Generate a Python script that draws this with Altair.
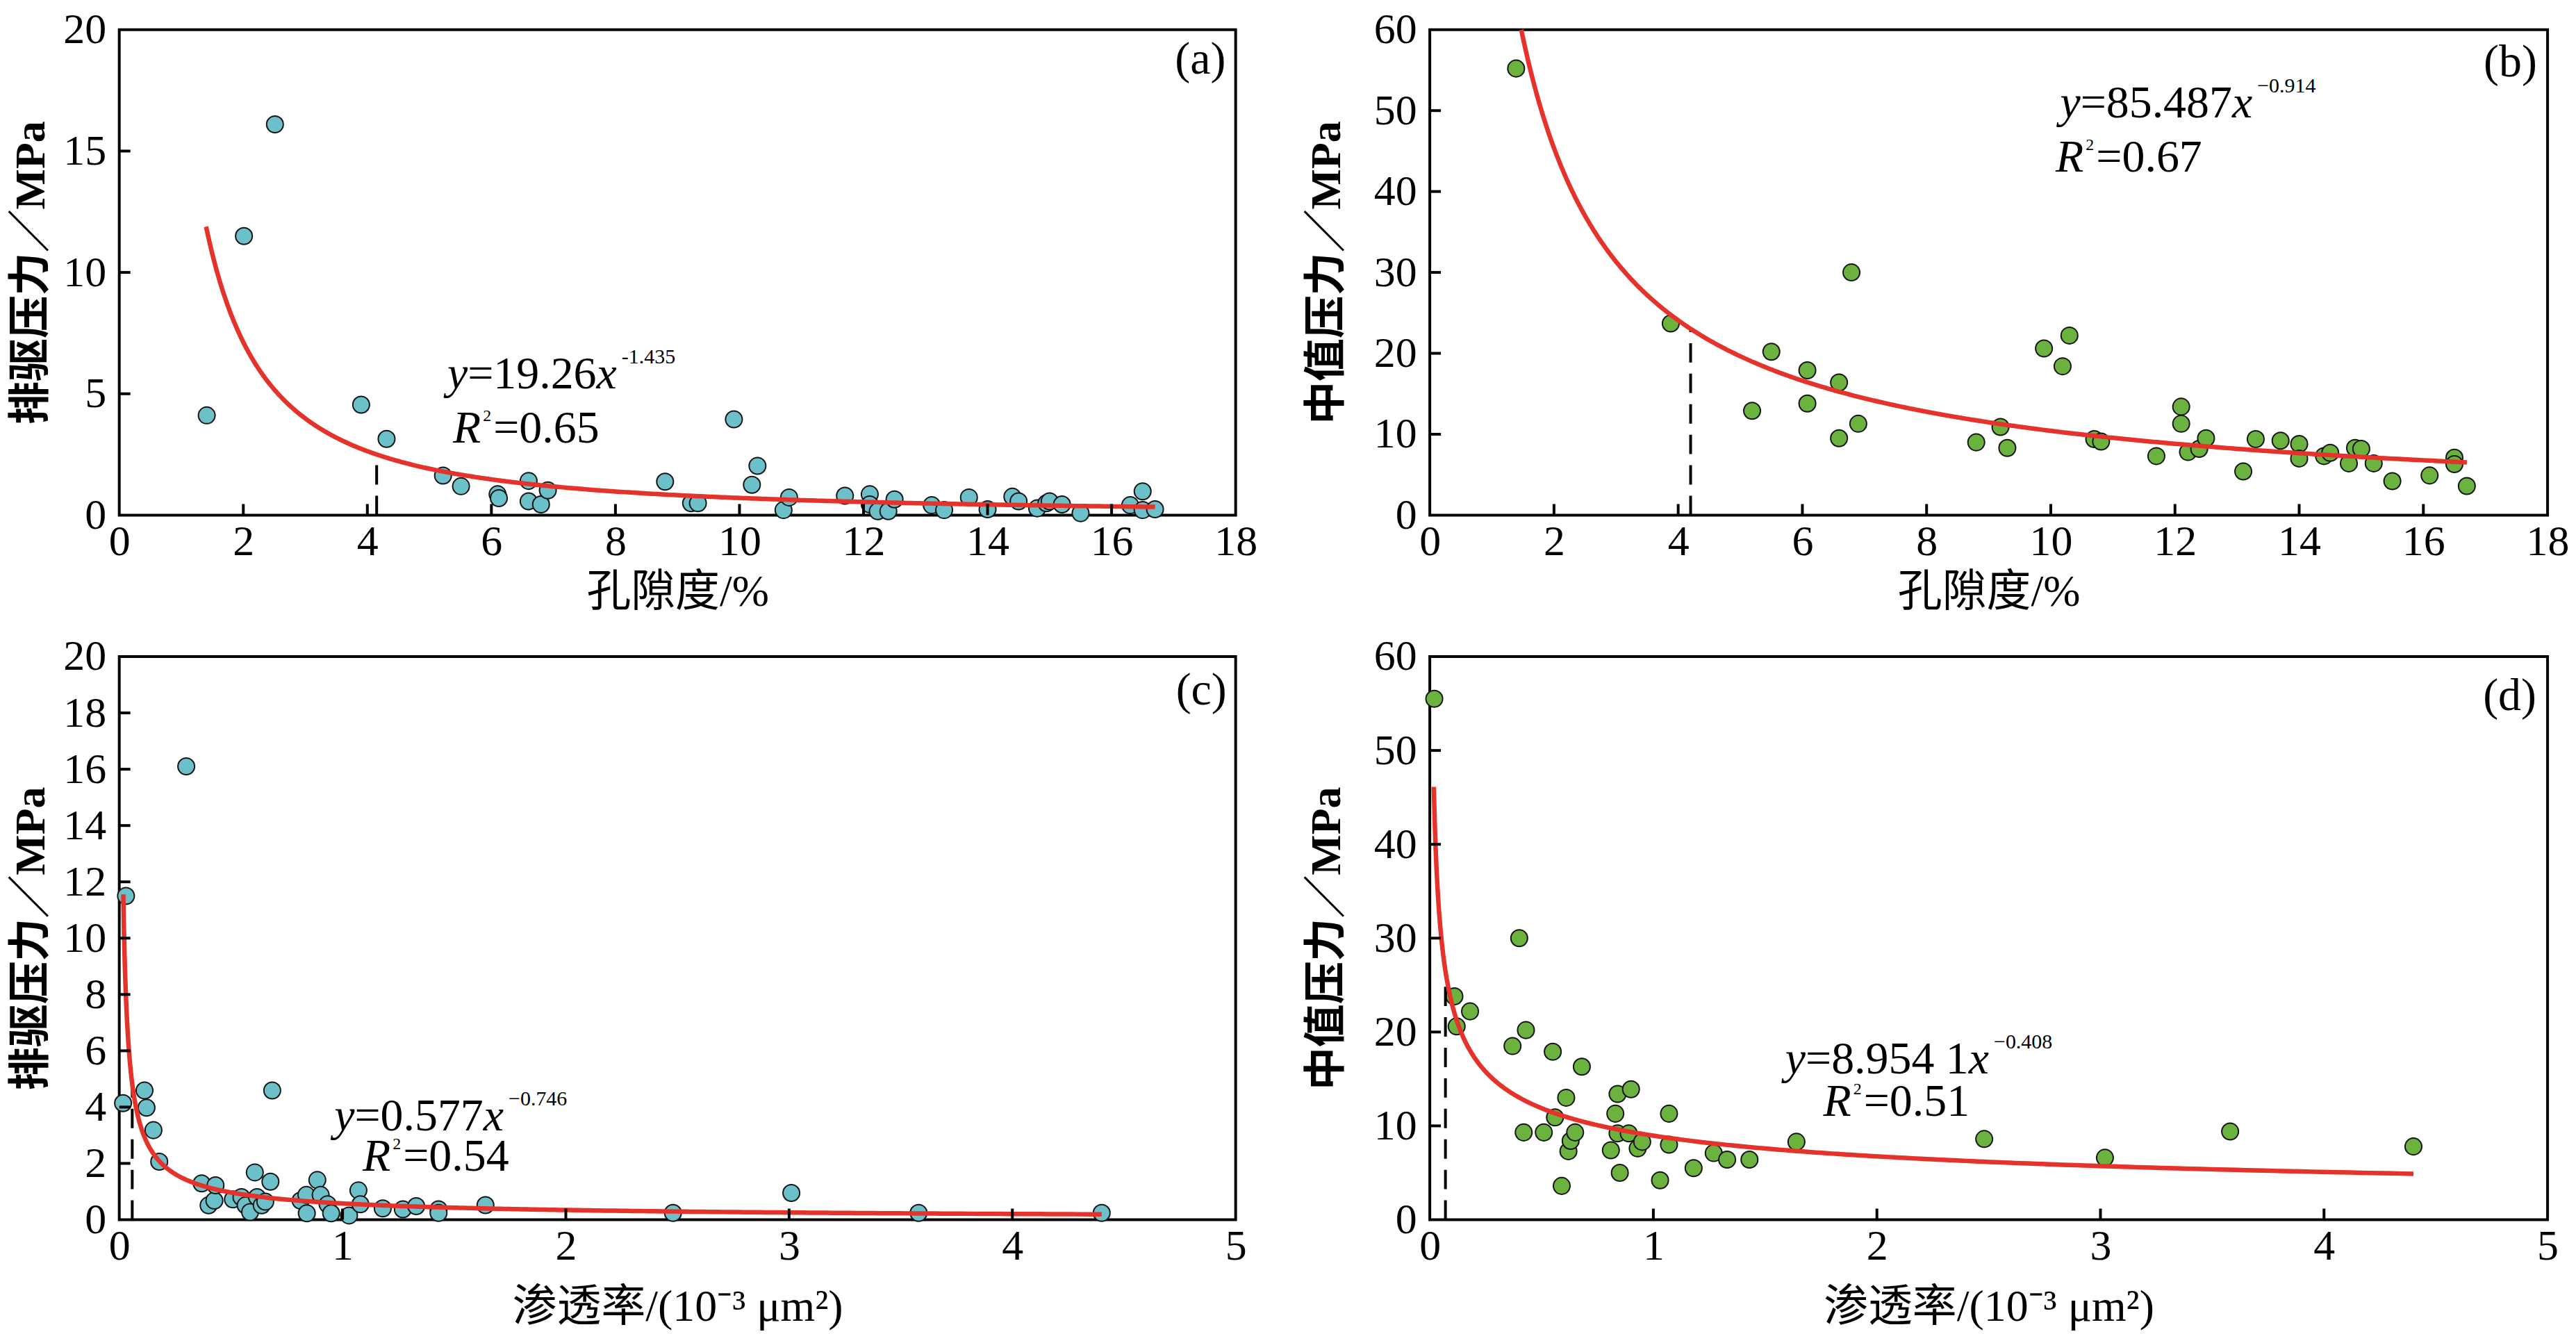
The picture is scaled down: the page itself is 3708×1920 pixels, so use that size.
import altair as alt
import numpy as np
import pandas as pd

# ---------------- data ----------------
# (a) porosity (%) vs displacement pressure (MPa)
a_x = [1.41, 2.01, 2.51, 3.90, 4.31, 5.22, 5.51, 6.10, 6.12, 6.60, 6.60, 6.80, 6.91,
       8.80, 9.22, 9.33, 9.91, 10.20, 10.29, 10.71, 10.80, 11.70, 12.10, 12.10, 12.23,
       12.40, 12.50, 13.10, 13.30, 13.70, 14.00, 14.40, 14.50, 14.80, 14.95, 15.00,
       15.20, 15.50, 16.30, 16.50, 16.50, 16.70]
a_y = [4.11, 11.5, 16.1, 4.55, 3.14, 1.63, 1.19, 0.86, 0.70, 1.41, 0.57, 0.44, 1.02,
       1.38, 0.49, 0.49, 3.95, 1.25, 2.03, 0.21, 0.73, 0.80, 0.86, 0.44, 0.16,
       0.16, 0.65, 0.41, 0.21, 0.73, 0.24, 0.76, 0.57, 0.28, 0.49, 0.57,
       0.44, 0.08, 0.41, 0.98, 0.21, 0.24]

# (b) porosity (%) vs median pressure (MPa)
b_x = [1.39, 3.88, 5.19, 5.50, 6.08, 6.08, 6.59, 6.59, 6.79, 6.90, 8.80, 9.19, 9.30,
       9.89, 10.19, 10.30, 10.70, 10.81, 11.70, 12.10, 12.10, 12.21, 12.39, 12.50,
       13.10, 13.30, 13.70, 14.00, 14.00, 14.40, 14.50, 14.80, 14.90, 15.00, 15.20,
       15.50, 16.10, 16.50, 16.50, 16.70]
b_y = [55.2, 23.7, 12.9, 20.2, 17.9, 13.8, 16.4, 9.5, 30.0, 11.3, 9.0, 10.9, 8.3,
       20.6, 18.4, 22.2, 9.4, 9.1, 7.3, 13.4, 11.3, 7.8, 8.2, 9.5,
       5.4, 9.4, 9.2, 8.8, 7.0, 7.3, 7.7, 6.4, 8.3, 8.2, 6.4,
       4.2, 4.9, 7.1, 6.3, 3.6]

# (c) permeability (10^-3 um^2) vs displacement pressure (MPa)
c_x = [0.017, 0.03, 0.113, 0.122, 0.153, 0.179, 0.30, 0.369, 0.400, 0.426, 0.431, 0.509,
       0.547, 0.566, 0.586, 0.607, 0.617, 0.638, 0.654, 0.677, 0.685, 0.812, 0.838,
       0.840, 0.887, 0.902, 0.933, 0.949, 1.029, 1.071, 1.080, 1.18, 1.27, 1.33,
       1.43, 1.43, 1.64, 2.48, 3.01, 3.58, 4.40]
c_y = [4.14, 11.5, 4.59, 3.98, 3.18, 2.06, 16.1, 1.29, 0.51, 0.68, 1.22, 0.72,
       0.80, 0.51, 0.27, 1.68, 0.80, 0.51, 0.64, 1.35, 4.59, 0.68, 0.88,
       0.23, 1.41, 0.88, 0.55, 0.23, 0.15, 1.04, 0.55, 0.40, 0.37, 0.48,
       0.37, 0.24, 0.52, 0.24, 0.95, 0.24, 0.24]

# (d) permeability (10^-3 um^2) vs median pressure (MPa)
d_x = [0.02, 0.11, 0.12, 0.18, 0.37, 0.40, 0.42, 0.43, 0.51, 0.55, 0.56, 0.59, 0.61,
       0.62, 0.63, 0.65, 0.68, 0.81, 0.83, 0.84, 0.84, 0.85, 0.89, 0.90, 0.93, 0.95,
       1.03, 1.07, 1.07, 1.18, 1.27, 1.33, 1.43, 1.64, 2.48, 3.02, 3.58, 4.40]
d_y = [55.5, 23.8, 20.6, 22.2, 18.5, 30.0, 9.3, 20.2, 9.3, 17.9, 10.9, 3.6, 13.0,
       7.3, 8.4, 9.3, 16.3, 7.4, 11.3, 13.4, 9.2, 5.0, 9.2, 13.9, 7.6, 8.3,
       4.2, 11.3, 8.0, 5.5, 7.1, 6.4, 6.4, 8.3, 8.6, 6.6, 9.4, 7.8]

# fitted power laws y = a * x^b, and the x range each curve is drawn over
fit_a = (19.26, -1.435, 1.40, 16.7)
fit_b = (85.487, -0.914, 1.473, 16.7)
fit_c = (0.577, -0.746, 0.018, 4.40)
fit_d = (8.9541, -0.408, 0.018, 4.40)

# x of the dashed guide line in each panel
dash_a, dash_b, dash_c, dash_d = 4.15, 4.2, 0.058, 0.07

# axis tick values
por_ticks = [0, 2, 4, 6, 8, 10, 12, 14, 16, 18]
perm_ticks = [0, 1, 2, 3, 4, 5]
pd_ticks_a = [0, 5, 10, 15, 20]
pd_ticks_c = [0, 2, 4, 6, 8, 10, 12, 14, 16, 18, 20]
mp_ticks = [0, 10, 20, 30, 40, 50, 60]

por_title = "孔隙度/%"
perm_title = "渗透率/(10⁻³ μm²)"
pd_title = "排驱压力／MPa"
mp_title = "中值压力／MPa"

# ---------------- styles ----------------
SERIF = "'Liberation Serif', 'Noto Sans CJK SC'"
CYAN = "#6CC0C9"
GREEN = "#6BB33E"
RED = "#E5322B"
MAIN = 66
SUP = 30
SUP2 = 24

REG_W = {c: 0.5 for c in "0123456789"}
REG_W.update({'.': 0.25, '=': 0.564, '-': 0.333, '−': 0.564, ' ': 0.25})
IT_W = {'y': 0.444, 'x': 0.444, 'R': 0.611}


def text_pieces(x, y, parts, X, Y):
    layers = []
    off = 0.0
    for txt, kind in parts:
        gap = 0
        if kind == 'it':
            size, dy, style = MAIN, 0, 'italic'
            w = sum(IT_W.get(c, 0.5) for c in txt) * size
        elif kind == 'reg':
            size, dy, style = MAIN, 0, 'normal'
            w = sum(REG_W.get(c, 0.5) for c in txt) * size
        elif kind == 'sup':
            size, dy, style = SUP, -36, 'normal'
            w = sum(REG_W.get(c, 0.5) for c in txt) * size
            gap = 7
        else:  # small superscript after R
            size, dy, style = SUP2, -31, 'normal'
            w = sum(REG_W.get(c, 0.5) for c in txt) * size + 3
            gap = 3
        layers.append(
            alt.Chart(pd.DataFrame({'x': [x], 'y': [y]})).mark_text(
                text=txt, font=SERIF, fontSize=size, fontStyle=style,
                align='left', baseline='alphabetic', dx=off + gap, dy=dy, color='black'
            ).encode(x=X('x'), y=Y('y'))
        )
        off += w + gap
    return layers


def panel(px, py, fill, fit, dash_x, xdom, xvals, ydom, yvals, xtitle, ytitle,
          w, h, eq_pos, eq_parts, r2_pos, r2_parts, tag, tag_pos, ytpad, xtpad):
    xs = alt.Scale(domain=xdom, nice=False, zero=False)
    ys = alt.Scale(domain=ydom, nice=False, zero=False)
    coef, expo, x0, x1 = fit

    x_axis = alt.Axis(values=xvals, title=xtitle, ticks=False, tickSize=0, domain=False,
                      grid=False, labelFont=SERIF, labelFontSize=62, labelColor='black',
                      labelPadding=8, labelFlush=False, labelOverlap=False,
                      titleFont=SERIF, titleFontSize=64, titleFontWeight='normal',
                      titleColor='black', titlePadding=xtpad)
    y_axis = alt.Axis(values=yvals, title=ytitle, ticks=False, tickSize=0, domain=False,
                      grid=False, labelFont=SERIF, labelFontSize=62, labelColor='black',
                      labelPadding=19, labelFlush=False, labelOverlap=False,
                      titleFont=SERIF, titleFontSize=62, titleFontWeight='bold',
                      titleColor='black', titlePadding=ytpad)

    def X(f):
        return alt.X(f + ':Q', scale=xs, axis=x_axis)

    def Y(f):
        return alt.Y(f + ':Q', scale=ys, axis=y_axis)

    dash = alt.Chart(pd.DataFrame({'x': [dash_x], 'y0': [0.0]})).transform_calculate(
        y1=f"{coef}*pow(datum.x,{expo})"
    ).mark_rule(color='black', strokeWidth=4, strokeDash=[28, 16]).encode(
        x=X('x'), y=Y('y0'), y2='y1:Q')

    pts = alt.Chart(pd.DataFrame({'x': px, 'y': py})).mark_circle(
        size=580, color=fill, opacity=1, stroke='#151515', strokeWidth=2
    ).encode(x=X('x'), y=Y('y'))

    grid = np.geomspace(x0, x1, 500)
    curve = alt.Chart(pd.DataFrame({'x': grid})).transform_calculate(
        y=f"{coef}*pow(datum.x,{expo})"
    ).mark_line(color=RED, strokeWidth=6.5).encode(x=X('x'), y=Y('y'))

    xt = alt.Chart(pd.DataFrame({'x': xvals[1:-1]})).mark_rule(color='black', strokeWidth=4).encode(
        x=X('x'), y=alt.value(h), y2=alt.value(h - 16))
    yt = alt.Chart(pd.DataFrame({'y': yvals[1:-1]})).mark_rule(color='black', strokeWidth=4).encode(
        y=Y('y'), x=alt.value(0), x2=alt.value(16))

    texts = text_pieces(eq_pos[0], eq_pos[1], eq_parts, X, Y)
    texts += text_pieces(r2_pos[0], r2_pos[1], r2_parts, X, Y)
    lab = alt.Chart(pd.DataFrame({'x': [tag_pos[0]], 'y': [tag_pos[1]]})).mark_text(
        text=tag, font=SERIF, fontSize=66, align='right', baseline='alphabetic', color='black'
    ).encode(x=X('x'), y=Y('y'))

    return alt.layer(pts, dash, curve, xt, yt, *texts, lab).properties(width=w, height=h)


pa = panel(a_x, a_y, CYAN, fit_a, dash_a, [0, 18], por_ticks, [0, 20], pd_ticks_a,
           por_title, pd_title, 1610, 700,
           (5.29, 5.22), [("y", 'it'), ("=19.26", 'reg'), ("x", 'it'), ("-1.435", 'sup')],
           (5.38, 2.98), [("R", 'it'), ("2", 'sup2'), ("=0.65", 'reg')],
           "(a)", (17.84, 18.2), 14, 10)
pb = panel(b_x, b_y, GREEN, fit_b, dash_b, [0, 18], por_ticks, [0, 60], mp_ticks,
           por_title, mp_title, 1612, 700,
           (10.15, 49.2), [("y", 'it'), ("=85.487", 'reg'), ("x", 'it'), ("−0.914", 'sup')],
           (10.08, 42.5), [("R", 'it'), ("2", 'sup2'), ("=0.67", 'reg')],
           "(b)", (17.83, 54.2), 36, 10)
pc = panel(c_x, c_y, CYAN, fit_c, dash_c, [0, 5], perm_ticks, [0, 20], pd_ticks_c,
           perm_title, pd_title, 1610, 812,
           (0.963, 3.18), [("y", 'it'), ("=0.577", 'reg'), ("x", 'it'), ("−0.746", 'sup')],
           (1.09, 1.75), [("R", 'it'), ("2", 'sup2'), ("=0.54", 'reg')],
           "(c)", (4.96, 18.3), 14, 25)
pdd = panel(d_x, d_y, GREEN, fit_d, dash_d, [0, 5], perm_ticks, [0, 60], mp_ticks,
            perm_title, mp_title, 1612, 812,
            (1.59, 15.6), [("y", 'it'), ("=8.954 1", 'reg'), ("x", 'it'), ("−0.408", 'sup')],
            (1.76, 11.1), [("R", 'it'), ("2", 'sup2'), ("=0.51", 'reg')],
            "(d)", (4.95, 54.3), 36, 25)

chart = alt.concat(pa, pb, pc, pdd, columns=2, spacing={"row": 204, "column": 280},
                   bounds='flush').properties(
    padding={"left": 4, "top": 0, "right": 0, "bottom": 0}, background='white').configure(
    font=SERIF).configure_view(stroke='black', strokeWidth=4)

chart.save("out.html", embed_options={"renderer": "svg", "actions": False})
